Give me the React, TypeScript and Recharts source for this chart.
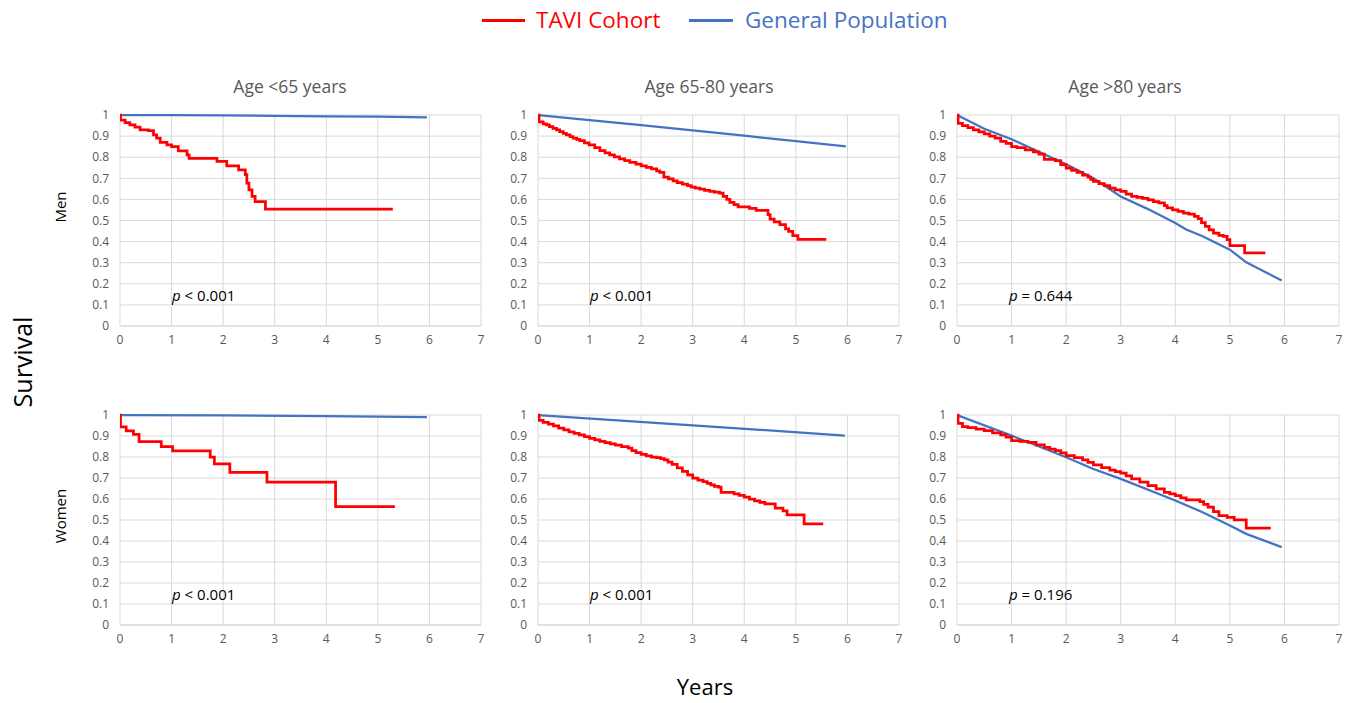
import React from "react";
import { LineChart, Line, XAxis, YAxis, CartesianGrid } from "recharts";

// ---- data: [years, survival] ----
const menU65Tavi = [[0,1],[0.01,0.976],[0.1,0.964],[0.19,0.953],[0.29,0.942],[0.39,0.93],[0.55,0.926],[0.65,0.906],[0.71,0.89],[0.78,0.87],[0.91,0.858],[1.0,0.85],[1.13,0.83],[1.3,0.811],[1.34,0.795],[1.88,0.78],[2.07,0.759],[2.3,0.74],[2.43,0.717],[2.46,0.677],[2.5,0.645],[2.56,0.614],[2.62,0.59],[2.82,0.554],[5.29,0.554]];
const menU65Gen = [[0,1],[1,0.999],[2,0.998],[3,0.996],[4,0.994],[5,0.992],[5.95,0.989]];

const men6580Tavi = [[0,1],[0.02,0.968],[0.1,0.958],[0.16,0.953],[0.22,0.945],[0.29,0.937],[0.36,0.929],[0.42,0.921],[0.49,0.913],[0.55,0.906],[0.62,0.898],[0.68,0.89],[0.75,0.884],[0.81,0.879],[0.9,0.868],[0.99,0.858],[1.1,0.845],[1.2,0.831],[1.3,0.821],[1.39,0.811],[1.48,0.801],[1.58,0.792],[1.68,0.784],[1.78,0.776],[1.9,0.767],[2.0,0.759],[2.1,0.752],[2.2,0.745],[2.3,0.735],[2.36,0.728],[2.44,0.706],[2.53,0.697],[2.62,0.688],[2.7,0.68],[2.8,0.672],[2.9,0.665],[2.97,0.658],[3.05,0.654],[3.14,0.649],[3.23,0.643],[3.33,0.638],[3.42,0.634],[3.52,0.63],[3.59,0.614],[3.66,0.6],[3.72,0.586],[3.8,0.575],[3.88,0.564],[4.1,0.557],[4.23,0.548],[4.46,0.528],[4.5,0.507],[4.58,0.493],[4.69,0.48],[4.8,0.46],[4.86,0.449],[4.94,0.428],[5.04,0.41],[5.59,0.41]];
const men6580Gen = [[0,1],[1,0.976],[2,0.952],[3,0.927],[4,0.902],[5,0.876],[5.97,0.851]];

const menO80Tavi = [[0,1],[0.02,0.96],[0.1,0.95],[0.2,0.94],[0.3,0.93],[0.4,0.92],[0.5,0.91],[0.6,0.9],[0.7,0.89],[0.8,0.875],[0.9,0.865],[1.0,0.85],[1.1,0.845],[1.25,0.835],[1.4,0.825],[1.5,0.814],[1.6,0.79],[1.8,0.784],[1.9,0.765],[2.0,0.748],[2.1,0.738],[2.2,0.728],[2.3,0.715],[2.4,0.705],[2.45,0.695],[2.5,0.685],[2.6,0.675],[2.7,0.665],[2.8,0.654],[2.9,0.645],[3.0,0.638],[3.1,0.625],[3.2,0.614],[3.3,0.61],[3.4,0.605],[3.5,0.598],[3.6,0.59],[3.7,0.583],[3.8,0.57],[3.85,0.56],[3.95,0.55],[4.05,0.543],[4.15,0.535],[4.25,0.53],[4.35,0.52],[4.42,0.509],[4.48,0.49],[4.55,0.472],[4.62,0.455],[4.7,0.44],[4.8,0.43],[4.88,0.425],[4.95,0.409],[5.0,0.381],[5.27,0.346],[5.65,0.346]];
const menO80Gen = [[0,1],[0.5,0.935],[1,0.885],[1.5,0.826],[2,0.767],[2.5,0.7],[3,0.614],[3.5,0.554],[4,0.488],[4.2,0.457],[4.5,0.425],[5,0.362],[5.3,0.302],[5.95,0.216]];

const womenU65Tavi = [[0,1],[0.01,0.944],[0.12,0.925],[0.26,0.908],[0.37,0.873],[0.8,0.849],[1.02,0.829],[1.75,0.8],[1.83,0.767],[2.13,0.727],[2.85,0.68],[4.18,0.564],[5.33,0.564]];
const womenU65Gen = [[0,1],[2,0.998],[4,0.995],[5.95,0.99]];

const women6580Tavi = [[0,1],[0.02,0.975],[0.1,0.965],[0.2,0.957],[0.3,0.948],[0.4,0.938],[0.5,0.929],[0.6,0.92],[0.7,0.912],[0.8,0.905],[0.9,0.897],[1.0,0.889],[1.1,0.882],[1.2,0.875],[1.3,0.868],[1.4,0.862],[1.5,0.857],[1.62,0.85],[1.75,0.842],[1.82,0.83],[1.9,0.821],[2.0,0.812],[2.1,0.805],[2.2,0.8],[2.3,0.797],[2.38,0.792],[2.45,0.786],[2.52,0.776],[2.6,0.765],[2.7,0.748],[2.8,0.731],[2.9,0.715],[3.0,0.699],[3.1,0.69],[3.2,0.683],[3.28,0.675],[3.35,0.667],[3.42,0.66],[3.5,0.656],[3.55,0.631],[3.8,0.624],[3.9,0.617],[4.0,0.609],[4.1,0.6],[4.2,0.591],[4.3,0.584],[4.4,0.577],[4.6,0.556],[4.75,0.544],[4.83,0.525],[5.16,0.482],[5.53,0.482]];
const women6580Gen = [[0,1],[3,0.951],[5.95,0.902]];

const womenO80Tavi = [[0,1],[0.02,0.96],[0.1,0.945],[0.2,0.94],[0.35,0.933],[0.5,0.926],[0.65,0.915],[0.8,0.905],[0.9,0.895],[1.0,0.878],[1.15,0.875],[1.3,0.87],[1.45,0.858],[1.6,0.846],[1.7,0.838],[1.8,0.83],[1.9,0.82],[2.0,0.807],[2.15,0.797],[2.3,0.786],[2.4,0.775],[2.5,0.762],[2.65,0.75],[2.8,0.738],[2.9,0.73],[3.0,0.723],[3.1,0.71],[3.2,0.696],[3.35,0.68],[3.5,0.664],[3.65,0.648],[3.8,0.632],[3.9,0.624],[4.0,0.616],[4.1,0.605],[4.2,0.596],[4.45,0.588],[4.52,0.575],[4.6,0.561],[4.7,0.54],[4.8,0.521],[4.95,0.513],[5.08,0.501],[5.3,0.461],[5.75,0.461]];
const womenO80Gen = [[0,1],[1,0.902],[2,0.799],[2.5,0.743],[3,0.696],[4,0.593],[4.5,0.537],[5,0.474],[5.3,0.434],[5.95,0.371]];

const xTicks = [0, 1, 2, 3, 4, 5, 6, 7];
const yTicks = [0, 0.1, 0.2, 0.3, 0.4, 0.5, 0.6, 0.7, 0.8, 0.9, 1];
const ageTitles = ["Age <65 years", "Age 65-80 years", "Age >80 years"];
const pValues = [
  ["<", "0.001"], ["<", "0.001"], ["=", "0.644"],
  ["<", "0.001"], ["<", "0.001"], ["=", "0.196"],
];

const FONT = "'Open Sans', 'Liberation Sans', sans-serif";
const RED = "#ff0000";
const BLUE = "#4472c4";
const GRID = "#d9d9d9";
const TICK = "#595959";

const toPts = (arr: number[][]) => arr.map(([t, s]) => ({ t, s }));

interface PanelProps {
  left: number;
  top: number;
  w: number;
  h: number;
  tavi: number[][];
  gen: number[][];
}

function Panel({ left, top, w, h, tavi, gen }: PanelProps) {
  const padL = 40, padT = 12, padR = 5, padB = 30;
  return (
    <div style={{ position: "absolute", left: left - padL, top: top - padT }}>
      <LineChart
        width={w + padL + padR}
        height={h + padT + padB}
        margin={{ top: padT, right: padR, left: 0, bottom: 0 }}
      >
        <CartesianGrid stroke={GRID} strokeWidth={1} />
        <XAxis
          type="number"
          dataKey="t"
          domain={[0, 7]}
          ticks={xTicks}
          interval={0}
          allowDataOverflow
          height={padB}
          axisLine={{ stroke: GRID }}
          tickLine={false}
          tickMargin={3}
          tick={{ fontSize: 12, fill: TICK, fontFamily: FONT }}
        />
        <YAxis
          type="number"
          dataKey="s"
          domain={[0, 1]}
          ticks={yTicks}
          interval={0}
          width={padL}
          axisLine={false}
          tickLine={false}
          tickMargin={5}
          tick={{ fontSize: 12, fill: TICK, fontFamily: FONT }}
        />
        <Line
          data={toPts(gen)}
          dataKey="s"
          type="linear"
          stroke={BLUE}
          strokeWidth={2.25}
          dot={false}
          isAnimationActive={false}
        />
        <Line
          data={toPts(tavi)}
          dataKey="s"
          type="stepAfter"
          stroke={RED}
          strokeWidth={2.75}
          dot={false}
          isAnimationActive={false}
        />
      </LineChart>
    </div>
  );
}

const panels = [
  { left: 120, top: 115, w: 361, h: 211, tavi: menU65Tavi, gen: menU65Gen },
  { left: 538, top: 115, w: 361, h: 211, tavi: men6580Tavi, gen: men6580Gen },
  { left: 957, top: 115, w: 382, h: 211, tavi: menO80Tavi, gen: menO80Gen },
  { left: 120, top: 415, w: 361, h: 210, tavi: womenU65Tavi, gen: womenU65Gen },
  { left: 538, top: 415, w: 361, h: 210, tavi: women6580Tavi, gen: women6580Gen },
  { left: 957, top: 415, w: 382, h: 210, tavi: womenO80Tavi, gen: womenO80Gen },
];
const titleCenters = [290, 709, 1125];
const pLefts = [172, 590, 1009];

export default function App() {
  return (
    <div
      style={{
        position: "absolute",
        left: 0,
        top: 0,
        width: 1354,
        height: 703,
        background: "#fff",
        fontFamily: FONT,
        overflow: "hidden",
      }}
    >
      {/* legend */}
      <div style={{ position: "absolute", left: 0, top: 5, width: 1354, height: 32 }}>
        <div style={{ position: "absolute", left: 482, top: 14, width: 43, height: 3, background: RED }} />
        <div style={{ position: "absolute", left: 536, top: 0, fontSize: 22.5, color: RED, lineHeight: "30px", whiteSpace: "nowrap" }}>
          TAVI Cohort
        </div>
        <div style={{ position: "absolute", left: 689, top: 14, width: 44, height: 3, background: BLUE }} />
        <div style={{ position: "absolute", left: 745, top: 0, fontSize: 22.5, color: BLUE, lineHeight: "30px", whiteSpace: "nowrap" }}>
          General Population
        </div>
      </div>

      {titleCenters.map((cx, i) => (
        <div
          key={ageTitles[i]}
          style={{
            position: "absolute",
            left: cx - 100,
            width: 200,
            top: 73,
            textAlign: "center",
            fontSize: 17.5,
            color: TICK,
            lineHeight: "26px",
          }}
        >
          {ageTitles[i]}
        </div>
      ))}

      {panels.map((p, i) => (
        <Panel key={i} {...p} />
      ))}

      {pValues.map(([op, val], i) => (
        <div
          key={"p" + i}
          style={{
            position: "absolute",
            left: pLefts[i % 3],
            top: i < 3 ? 284 : 583,
            fontSize: 15,
            color: "#000",
            lineHeight: "22px",
            whiteSpace: "nowrap",
          }}
        >
          <i>p</i> {op} {val}
        </div>
      ))}

      {/* row labels */}
      <div style={{ position: "absolute", left: 60, top: 207, transform: "translate(-50%, -50%) rotate(-90deg)", fontSize: 15, color: "#000", whiteSpace: "nowrap" }}>
        Men
      </div>
      <div style={{ position: "absolute", left: 60, top: 516, transform: "translate(-50%, -50%) rotate(-90deg)", fontSize: 15, color: "#000", whiteSpace: "nowrap" }}>
        Women
      </div>
      <div style={{ position: "absolute", left: 22, top: 362, transform: "translate(-50%, -50%) rotate(-90deg)", fontSize: 25, color: "#000", whiteSpace: "nowrap" }}>
        Survival
      </div>
      <div style={{ position: "absolute", left: 705, top: 686, transform: "translate(-50%, -50%)", fontSize: 22, lineHeight: "22px", color: "#000", whiteSpace: "nowrap" }}>
        Years
      </div>
    </div>
  );
}
